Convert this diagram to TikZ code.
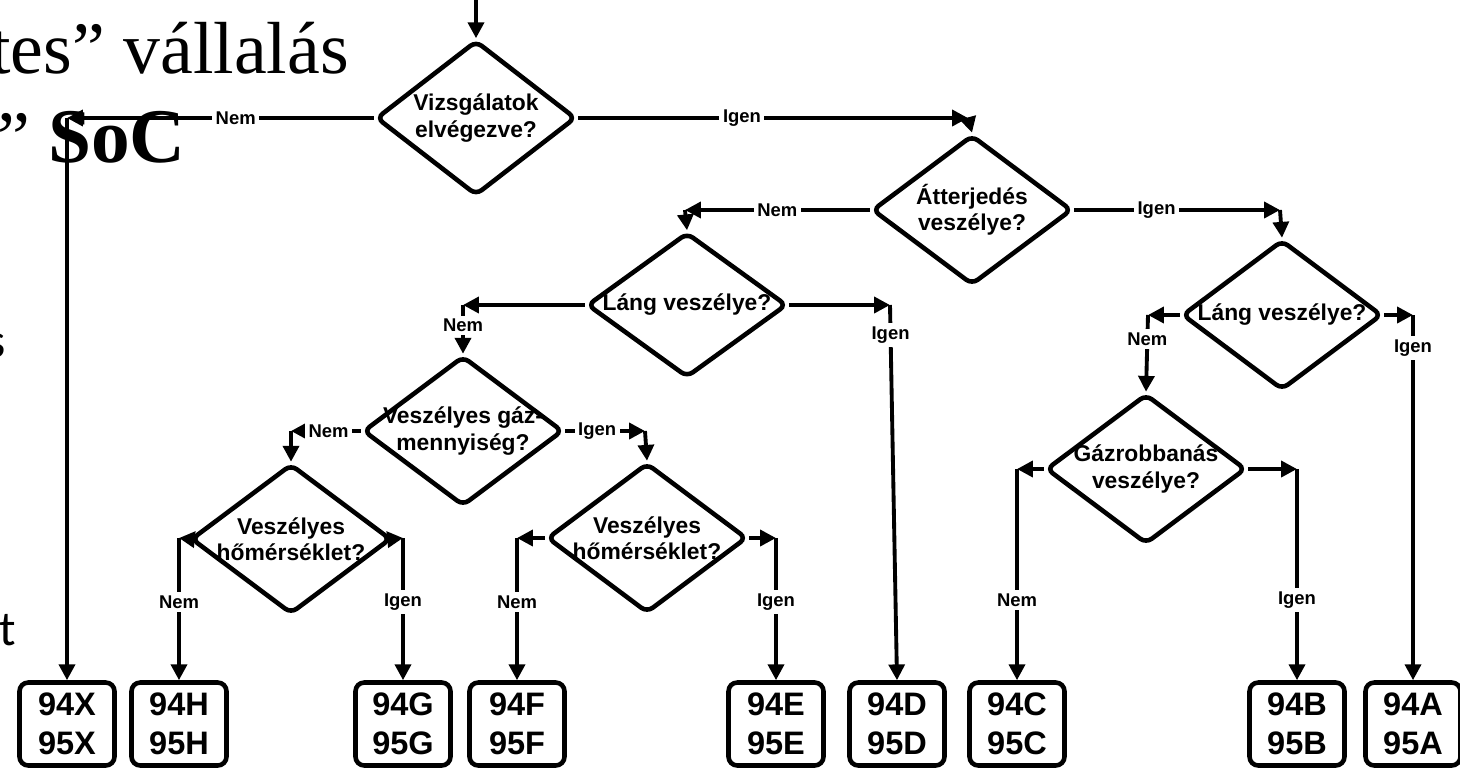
\documentclass[tikz,border=0pt]{standalone}
\usepackage{fontspec}
\usetikzlibrary{shapes.geometric,arrows.meta}

\newfontfamily\chartfont{Liberation Sans}
\newfontfamily\slidefont{Liberation Serif}
\newfontfamily\notefont{Carlito}

\begin{document}
\begin{tikzpicture}[x=0.02cm, y=-0.02cm,
	>={Triangle[length=9pt,width=9pt]},
	flow/.style={line width=2.2pt, ->},
	question/.style={shape=diamond, draw=black, line width=2.6pt,
		rounded corners=4pt, minimum width=4cm, minimum height=3cm, inner sep=0pt},
	qtext/.style={align=center, inner sep=0pt,
		font=\chartfont\bfseries\fontsize{13}{15}\selectfont},
	result/.style={shape=rectangle, draw=black, line width=2.6pt, rounded corners=5pt,
		minimum width=1.9cm, minimum height=1.66cm, align=center,
		font=\chartfont\bfseries\fontsize{18.5}{22.5}\selectfont},
	answer/.style={fill=white, inner sep=2pt,
		font=\chartfont\bfseries\fontsize{10.5}{12}\selectfont},
	slide/.style={anchor=base east, font=\slidefont\fontsize{42}{50}\selectfont},
	note/.style={anchor=base east, font=\notefont\fontsize{28}{30}\selectfont}]
	\useasboundingbox (0,0) rectangle (1460,771);

	% slide text behind the chart
	\node[slide] (title1) at (355,73) {tes” vállalás};
	\node[slide] (title2) at (192,162) {” \textbf{\fontsize{44}{50}\selectfont SoC}};
	\node[note] (note1) at (12,357) {s};
	\node[note] (note2) at (22,645) {et};

	% questions
	\node[question, minimum height=3.1cm] (d1) at (476,118) {};
	\node[qtext] (d1t) at (d1) {Vizsgálatok\\elvégezve?};
	\node[question] (d2) at (972,210) {};
	\node[qtext] (d2t) at (d2) {Átterjedés\\veszélye?};
	\node[question, minimum height=2.9cm] (d3) at (687,305) {};
	\node[qtext] (d3t) at (d3) {Láng veszélye?};
	\node[question] (d4) at (1282,315) {};
	\node[qtext] (d4t) at (d4) {Láng veszélye?};
	\node[question] (d5) at (463,431) {};
	\node[qtext] (d5t) at (d5) {Veszélyes gáz-\\mennyiség?};
	\node[question] (d6) at (291,539) {};
	\node[qtext] (d6t) at (d6) {Veszélyes\\hőmérséklet?};
	\node[question] (d7) at (647,538) {};
	\node[qtext] (d7t) at (d7) {Veszélyes\\hőmérséklet?};
	\node[question] (d8) at (1146,469) {};
	\node[qtext] (d8t) at (d8) {Gázrobbanás\\veszélye?};

	% results
	\node[result] (r94x) at (67,724) {94X\\95X};
	\node[result] (r94h) at (179,724) {94H\\95H};
	\node[result] (r94g) at (403,724) {94G\\95G};
	\node[result] (r94f) at (517,724) {94F\\95F};
	\node[result] (r94e) at (776,724) {94E\\95E};
	\node[result] (r94d) at (897,724) {94D\\95D};
	\node[result] (r94c) at (1017,724) {94C\\95C};
	\node[result] (r94b) at (1297,724) {94B\\95B};
	\node[result] (r94a) at (1413,724) {94A\\95A};

	% bends
	\coordinate (entry) at (476,-4);
	\coordinate (c1n) at (67,118);
	\coordinate (c1i) at (968,118);
	\coordinate (c2n) at (685,210);
	\coordinate (c2i) at (1280,210);
	\coordinate (c3n) at (463,305);
	\coordinate (c3i) at (890,305);
	\coordinate (c4n) at (1148,315);
	\coordinate (c4i) at (1413,315);
	\coordinate (c5n) at (291,431);
	\coordinate (c5i) at (645,431);
	\coordinate (c6n) at (179,538);
	\coordinate (c6i) at (403,538);
	\coordinate (c7n) at (517,538);
	\coordinate (c7i) at (776,538);
	\coordinate (c8n) at (1017,469);
	\coordinate (c8i) at (1297,469);

	\draw[flow] (entry) -- (d1.north);

	\draw[flow] (d1.west) -- node[answer, pos=0.45] {Nem} (c1n);
	\draw[flow] (c1n) -- (r94x.north);
	\draw[flow] (d1.east) -- node[answer, pos=0.42] {Igen} (c1i);
	\draw[flow] (c1i) -- (d2.north);

	\draw[flow] (d2.west) -- node[answer, pos=0.5] {Nem} (c2n);
	\draw[flow] (c2n) -- (d3.north);
	\draw[flow] (d2.east) -- node[answer, pos=0.4] {Igen} (c2i);
	\draw[flow] (c2i) -- (d4.north);

	\draw[flow] (d3.west) -- (c3n);
	\draw[flow] (c3n) -- node[answer, pos=0.42] {Nem} (d5.north);
	\draw[flow] (d3.east) -- (c3i);
	\draw[flow] (c3i) -- node[answer, pos=0.08] {Igen} (r94d.north);

	\draw[flow] (d4.west) -- (c4n);
	\draw[flow] (c4n) -- node[answer, pos=0.31] {Nem} (d8.north);
	\draw[flow] (d4.east) -- (c4i);
	\draw[flow] (c4i) -- node[answer, pos=0.09] {Igen} (r94a.north);

	\draw[flow] (d5.west) -- node[answer, pos=0.46] {Nem} (c5n);
	\draw[flow] (c5n) -- (d6.north);
	\draw[flow] (d5.east) -- node[answer, pos=0.4] {Igen} (c5i);
	\draw[flow] (c5i) -- (d7.north);

	\draw[flow] (d6.west) -- (c6n);
	\draw[flow] (c6n) -- node[answer, pos=0.45] {Nem} (r94h.north);
	\draw[flow] (d6.east) -- (c6i);
	\draw[flow] (c6i) -- node[answer, pos=0.45] {Igen} (r94g.north);

	\draw[flow] (d7.west) -- (c7n);
	\draw[flow] (c7n) -- node[answer, pos=0.45] {Nem} (r94f.north);
	\draw[flow] (d7.east) -- (c7i);
	\draw[flow] (c7i) -- node[answer, pos=0.45] {Igen} (r94e.north);

	\draw[flow] (d8.west) -- (c8n);
	\draw[flow] (c8n) -- node[answer, pos=0.62] {Nem} (r94c.north);
	\draw[flow] (d8.east) -- (c8i);
	\draw[flow] (c8i) -- node[answer, pos=0.62] {Igen} (r94b.north);
\end{tikzpicture}
\end{document}
